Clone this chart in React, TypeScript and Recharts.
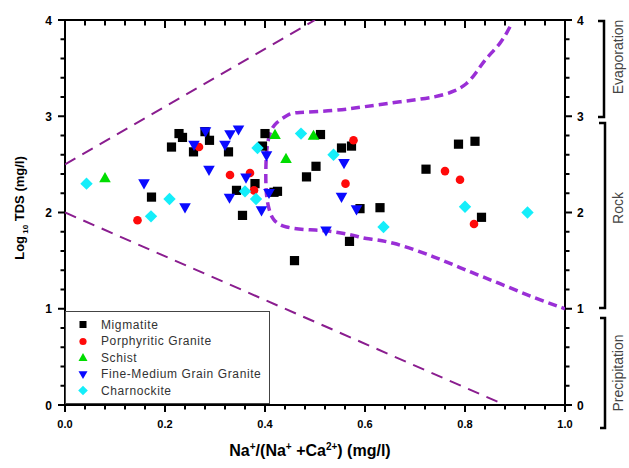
import { ScatterChart, Scatter, XAxis, YAxis, Legend } from "recharts";

type Pt = { x: number; y: number };

// sample groups
const migmatite: Pt[] = [
  { x: 0.173, y: 2.16 }, { x: 0.213, y: 2.68 }, { x: 0.228, y: 2.82 }, { x: 0.235, y: 2.78 },
  { x: 0.257, y: 2.63 }, { x: 0.28, y: 2.84 }, { x: 0.289, y: 2.75 }, { x: 0.327, y: 2.63 },
  { x: 0.343, y: 2.23 }, { x: 0.355, y: 1.97 }, { x: 0.38, y: 2.3 }, { x: 0.395, y: 2.69 },
  { x: 0.4, y: 2.82 }, { x: 0.418, y: 2.21 }, { x: 0.425, y: 2.22 }, { x: 0.459, y: 1.5 },
  { x: 0.483, y: 2.37 }, { x: 0.502, y: 2.48 }, { x: 0.511, y: 2.81 }, { x: 0.553, y: 2.67 },
  { x: 0.573, y: 2.69 }, { x: 0.569, y: 1.7 }, { x: 0.59, y: 2.04 }, { x: 0.63, y: 2.05 },
  { x: 0.722, y: 2.45 }, { x: 0.787, y: 2.71 }, { x: 0.82, y: 2.74 }, { x: 0.833, y: 1.95 },
];
const porphyritic: Pt[] = [
  { x: 0.145, y: 1.92 }, { x: 0.268, y: 2.68 }, { x: 0.33, y: 2.39 }, { x: 0.37, y: 2.41 },
  { x: 0.378, y: 2.23 }, { x: 0.561, y: 2.3 }, { x: 0.577, y: 2.75 }, { x: 0.76, y: 2.43 },
  { x: 0.79, y: 2.34 }, { x: 0.818, y: 1.88 },
];
const schist: Pt[] = [
  { x: 0.08, y: 2.36 }, { x: 0.42, y: 2.81 }, { x: 0.442, y: 2.56 }, { x: 0.497, y: 2.8 },
];
const fineMedium: Pt[] = [
  { x: 0.158, y: 2.3 }, { x: 0.24, y: 2.05 }, { x: 0.258, y: 2.7 }, { x: 0.281, y: 2.84 },
  { x: 0.288, y: 2.44 }, { x: 0.32, y: 2.7 }, { x: 0.33, y: 2.81 }, { x: 0.347, y: 2.86 },
  { x: 0.329, y: 2.15 }, { x: 0.362, y: 2.36 }, { x: 0.393, y: 2.02 }, { x: 0.403, y: 2.59 },
  { x: 0.408, y: 2.2 }, { x: 0.522, y: 1.81 }, { x: 0.558, y: 2.51 }, { x: 0.553, y: 2.16 },
  { x: 0.583, y: 2.03 },
];
const charnockite: Pt[] = [
  { x: 0.043, y: 2.3 }, { x: 0.172, y: 1.96 }, { x: 0.209, y: 2.14 }, { x: 0.36, y: 2.22 },
  { x: 0.382, y: 2.14 }, { x: 0.385, y: 2.67 }, { x: 0.472, y: 2.82 }, { x: 0.537, y: 2.6 },
  { x: 0.637, y: 1.85 }, { x: 0.8, y: 2.06 }, { x: 0.925, y: 2.0 },
];

// boundary curves
const outerUpper: Pt[] = [{ x: 0, y: 2.5 }, { x: 0.5, y: 4 }];
const outerLower: Pt[] = [{ x: 0, y: 2 }, { x: 0.88, y: 0 }];
const innerBoundary: Pt[] = [
  { x: 0.89, y: 3.93 }, { x: 0.87, y: 3.76 }, { x: 0.843, y: 3.6 }, { x: 0.823, y: 3.46 },
  { x: 0.803, y: 3.34 }, { x: 0.777, y: 3.26 }, { x: 0.737, y: 3.2 }, { x: 0.67, y: 3.15 },
  { x: 0.6, y: 3.1 }, { x: 0.536, y: 3.06 }, { x: 0.47, y: 3.04 }, { x: 0.445, y: 3.01 },
  { x: 0.423, y: 2.93 }, { x: 0.41, y: 2.82 }, { x: 0.403, y: 2.61 }, { x: 0.402, y: 2.27 },
  { x: 0.407, y: 2.06 }, { x: 0.417, y: 1.93 }, { x: 0.443, y: 1.85 }, { x: 0.49, y: 1.82 },
  { x: 0.522, y: 1.81 }, { x: 0.57, y: 1.77 }, { x: 0.603, y: 1.73 }, { x: 0.657, y: 1.68 },
  { x: 0.737, y: 1.54 }, { x: 0.803, y: 1.4 }, { x: 0.87, y: 1.26 }, { x: 0.937, y: 1.12 },
  { x: 1.0, y: 1.0 },
];

const xMajor = [0, 0.2, 0.4, 0.6, 0.8, 1.0];
const yMajor = [0, 1, 2, 3, 4];
const xTicks = Array.from({ length: 26 }, (_, i) => (i * 4) / 100);
const yTicks = Array.from({ length: 21 }, (_, i) => (i * 2) / 10);

const isMajor = (list: number[], v: number) => list.some((m) => Math.abs(m - v) < 1e-6);

const FONT = "'Liberation Sans', Arial, sans-serif";
const C = {
  mig: "#000000",
  por: "#ff0a0a",
  sch: "#00dd00",
  fin: "#0a0aff",
  cha: "#14eefa",
  outer: "#8a1d8f",
  inner: "#9a2fd6",
};

const Square = ({ cx, cy, s = 4.6, fill }: any) => (
  <rect x={cx - s} y={cy - s} width={s * 2} height={s * 2} fill={fill} />
);
const Dot = ({ cx, cy, s = 4.3, fill }: any) => <circle cx={cx} cy={cy} r={s} fill={fill} />;
const TriUp = ({ cx, cy, s = 5.8, fill }: any) => (
  <polygon points={`${cx},${cy - s} ${cx - s},${cy + s * 0.75} ${cx + s},${cy + s * 0.75}`} fill={fill} />
);
const TriDown = ({ cx, cy, s = 5.8, fill }: any) => (
  <polygon points={`${cx - s},${cy - s * 0.75} ${cx + s},${cy - s * 0.75} ${cx},${cy + s}`} fill={fill} />
);
const Diamond = ({ cx, cy, s = 6.2, fill }: any) => (
  <polygon points={`${cx},${cy - s} ${cx + s},${cy} ${cx},${cy + s} ${cx - s},${cy}`} fill={fill} />
);
const NoDot = () => <g />;

const TICK = "#000";
const labelStyle = { fontFamily: FONT, fontWeight: "bold", fill: "#000" };

function BottomTick(props: any) {
  const x = Number(props.x);
  const y = Number(props.y);
  const v = props.payload.value;
  const major = isMajor(xMajor, v);
  return (
    <g>
      <path d={`M${x},${y} V${y + (major ? 7 : 4.5)}`} stroke={TICK} strokeWidth={2} fill="none" />
      {major && (
        <text x={x} y={y + 23} textAnchor="middle" {...labelStyle} fontSize={11}>
          {v.toFixed(1)}
        </text>
      )}
    </g>
  );
}

function TopTick(props: any) {
  const x = Number(props.x);
  const y = Number(props.y);
  const major = isMajor(xMajor, props.payload.value);
  return <path d={`M${x},${y} V${y + (major ? 8 : 5.5)}`} stroke={TICK} strokeWidth={2} fill="none" />;
}

function LeftTick(props: any) {
  const x = Number(props.x);
  const y = Number(props.y);
  const v = props.payload.value;
  const major = isMajor(yMajor, v);
  return (
    <g>
      <path d={`M${x},${y} H${x - (major ? 7 : 4.5)}`} stroke={TICK} strokeWidth={2} fill="none" />
      {major && (
        <text x={x - 13} y={y + 4.5} textAnchor="end" {...labelStyle} fontSize={12}>
          {v}
        </text>
      )}
    </g>
  );
}

function RightTick(props: any) {
  const x = Number(props.x);
  const y = Number(props.y);
  const v = props.payload.value;
  const major = isMajor(yMajor, v);
  return (
    <g>
      <path d={`M${x},${y} H${x + (major ? 7 : 4.5)}`} stroke={TICK} strokeWidth={2} fill="none" />
      {major && (
        <text x={x + 12} y={y + 4.5} textAnchor="start" {...labelStyle} fontSize={12}>
          {v}
        </text>
      )}
    </g>
  );
}

const legendItems = [
  { name: "Migmatite", Shape: Square, color: C.mig, s: 3.5 },
  { name: "Porphyritic Granite", Shape: Dot, color: C.por, s: 3.6 },
  { name: "Schist", Shape: TriUp, color: C.sch, s: 4.5 },
  { name: "Fine-Medium Grain Granite", Shape: TriDown, color: C.fin, s: 4.5 },
  { name: "Charnockite", Shape: Diamond, color: C.cha, s: 4.8 },
];

function LegendBox() {
  return (
    <div
      style={{
        position: "relative",
        width: 203,
        height: 91,
        border: "1px solid #444",
        background: "#fff",
        fontFamily: FONT,
        fontSize: 12,
        color: "#333",
      }}
    >
      {legendItems.map((it, i) => (
        <div
          key={it.name}
          style={{ position: "absolute", left: 0, top: 4 + i * 16.6, height: 17, display: "flex", alignItems: "center" }}
        >
          <svg width={30} height={17} style={{ display: "block" }}>
            <it.Shape cx={17} cy={8.5} s={it.s} fill={it.color} />
          </svg>
          <span style={{ marginLeft: 5, letterSpacing: 0.6, whiteSpace: "nowrap" }}>{it.name}</span>
        </div>
      ))}
    </div>
  );
}

const axisLine = { stroke: "#000", strokeWidth: 2 };

export default function App() {
  return (
    <div style={{ position: "absolute", left: 0, top: 0, width: 629, height: 468, background: "#fff" }}>
      <ScatterChart width={629} height={468} margin={{ top: 10, right: 24, bottom: 33, left: 25 }}>
        <XAxis
          dataKey="x"
          type="number"
          domain={[0, 1]}
          allowDataOverflow
          ticks={xTicks}
          interval={0}
          tickSize={0}
          tickMargin={0}
          tickLine={false}
          axisLine={axisLine}
          tick={BottomTick}
          height={30}
        />
        <XAxis
          xAxisId="top"
          orientation="top"
          dataKey="x"
          type="number"
          domain={[0, 1]}
          allowDataOverflow
          ticks={xTicks}
          interval={0}
          tickSize={0}
          tickMargin={0}
          tickLine={false}
          axisLine={axisLine}
          tick={TopTick}
          height={10}
        />
        <YAxis
          dataKey="y"
          type="number"
          domain={[0, 4]}
          allowDataOverflow
          ticks={yTicks}
          interval={0}
          tickSize={0}
          tickMargin={0}
          tickLine={false}
          axisLine={axisLine}
          tick={LeftTick}
          width={40}
        />
        <YAxis
          yAxisId="right"
          orientation="right"
          dataKey="y"
          type="number"
          domain={[0, 4]}
          allowDataOverflow
          ticks={yTicks}
          interval={0}
          tickSize={0}
          tickMargin={0}
          tickLine={false}
          axisLine={axisLine}
          tick={RightTick}
          width={40}
        />
        <Legend
          layout="vertical"
          align="center"
          verticalAlign="middle"
          content={<LegendBox />}
          wrapperStyle={{ left: 65, top: 311, width: 205 }}
        />
        <Scatter
          name="outerUpper"
          data={outerUpper}
          fill={C.outer}
          line={{ stroke: C.outer, strokeWidth: 2, strokeDasharray: "12 8" }}
          shape={<NoDot />}
          legendType="none"
          isAnimationActive={false}
        />
        <Scatter
          name="outerLower"
          data={outerLower}
          fill={C.outer}
          line={{ stroke: C.outer, strokeWidth: 2, strokeDasharray: "12 8" }}
          shape={<NoDot />}
          legendType="none"
          isAnimationActive={false}
        />
        <Scatter
          name="innerBoundary"
          data={innerBoundary}
          fill={C.inner}
          line={{ stroke: C.inner, strokeWidth: 3.5, strokeDasharray: "9 5" }}
          lineJointType="natural"
          shape={<NoDot />}
          legendType="none"
          isAnimationActive={false}
        />
        <Scatter name="Migmatite" data={migmatite} fill={C.mig} shape={<Square />} isAnimationActive={false} />
        <Scatter name="Porphyritic Granite" data={porphyritic} fill={C.por} shape={<Dot />} isAnimationActive={false} />
        <Scatter name="Schist" data={schist} fill={C.sch} shape={<TriUp />} isAnimationActive={false} />
        <Scatter name="Fine-Medium Grain Granite" data={fineMedium} fill={C.fin} shape={<TriDown />} isAnimationActive={false} />
        <Scatter name="Charnockite" data={charnockite} fill={C.cha} shape={<Diamond />} isAnimationActive={false} />
      </ScatterChart>

      <svg
        width={629}
        height={468}
        style={{ position: "absolute", left: 0, top: 0, pointerEvents: "none" }}
      >
        <text
          transform="translate(24,208) rotate(-90)"
          textAnchor="middle"
          fontFamily={FONT}
          fontWeight={700}
          fontSize={13}
          fill="#000"
        >
          Log
          <tspan fontSize={8} dy={4}> 10</tspan>
          <tspan dy={-4}> TDS (mg/l)</tspan>
        </text>
        <text x={310} y={456} textAnchor="middle" fontFamily={FONT} fontWeight={700} fontSize={16} fill="#000">
          Na<tspan fontSize={10} dy={-6}>+</tspan>
          <tspan dy={6}>/(Na</tspan>
          <tspan fontSize={10} dy={-6}>+</tspan>
          <tspan dy={6}> +Ca</tspan>
          <tspan fontSize={10} dy={-6}>2+</tspan>
          <tspan dy={6}>) (mg/l)</tspan>
        </text>

        <g stroke="#000" strokeWidth={2.5} fill="none">
          <path d="M598,21 H604 V117 H598" />
          <path d="M599,123 H605 V308 H599" />
          <path d="M600,318 H605 V428 H600" />
        </g>
        <g fontFamily={FONT} fontSize={14} fill="#444" textAnchor="middle">
          <text transform="translate(623,57) rotate(-90)">Evaporation</text>
          <text transform="translate(623,208) rotate(-90)">Rock</text>
          <text transform="translate(623,373) rotate(-90)">Precipitation</text>
        </g>
      </svg>
    </div>
  );
}
